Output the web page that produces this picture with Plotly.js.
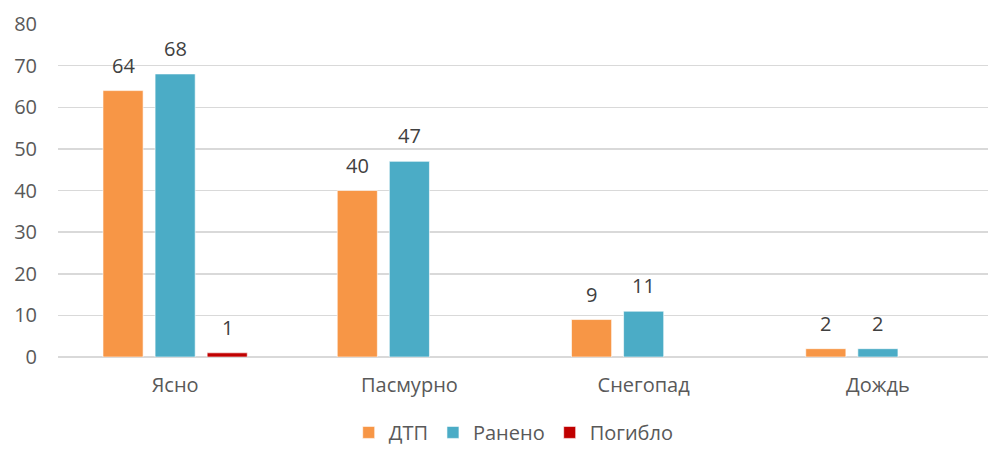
<!DOCTYPE html>
<html><head><meta charset="utf-8">
<script src="https://cdn.plot.ly/plotly-3.0.1.min.js"></script>
<style>html,body{margin:0;padding:0;background:#fff}#chart{width:988px;height:452px}</style>
</head><body><div id="chart"></div>
<script>
const categories = ["Ясно", "Пасмурно", "Снегопад", "Дождь"];
const dtp = [64, 40, 9, 2];
const raneno = [68, 47, 11, 2];
const pogiblo = [1, null, null, null];
const seriesNames = ["ДТП", "Ранено", "Погибло"];
const colors = ["#F79646", "#4BACC6", "#C00000"];

const font = "'Open Sans', 'Noto Sans', sans-serif";
const seriesVals = [dtp, raneno, pogiblo];
const data = seriesVals.map((vals, i) => ({
  type: "bar", name: seriesNames[i], x: categories, y: vals,
  marker: {color: colors[i], line: {color: "rgba(255,255,255,0.6)", width: 1}},
  hoverinfo: "x+y+name"
}));

// value labels as annotations anchored to each bar via the axis scales
const slot = 52; // px offset between grouped bars
const annotations = [];
seriesVals.forEach((vals, i) => {
  vals.forEach((v, j) => {
    if (v === null) return;
    annotations.push({
      x: categories[j], y: v, xref: "x", yref: "y",
      xshift: (i - 1) * slot, yshift: 10, yanchor: "bottom",
      text: String(v), showarrow: false,
      font: {family: font, size: 20, color: "#404040"}
    });
  });
});

const layout = {
  width: 988, height: 452,
  margin: {l: 58, r: 0, t: 24, b: 95, autoexpand: false},
  paper_bgcolor: "#fff", plot_bgcolor: "#fff",
  barmode: "group", bargap: 0.333, bargroupgap: 0.23,
  font: {family: font, color: "#595959", size: 20},
  xaxis: {type: "category", range: [-0.5, 3.47], showgrid: false, zeroline: false, showline: false,
          ticks: "", ticklabelstandoff: 14, tickfont: {size: 20, color: "#595959"}},
  yaxis: {range: [0, 80], dtick: 10, showgrid: true, gridcolor: "#D9D9D9", gridwidth: 1.5,
          zeroline: true, zerolinecolor: "#D9D9D9", zerolinewidth: 1.5, showline: false,
          ticks: "", ticklabelstandoff: 20, tickfont: {size: 20, color: "#595959"}},
  showlegend: true,
  legend: {orientation: "h", x: 0.49, xanchor: "center", y: -0.285, yanchor: "bottom",
           font: {size: 20, color: "#595959"}, itemwidth: 30, tracegroupgap: 0},
  annotations: annotations
};
Plotly.newPlot("chart", data, layout, {displayModeBar: false, staticPlot: true});
</script></body></html>
